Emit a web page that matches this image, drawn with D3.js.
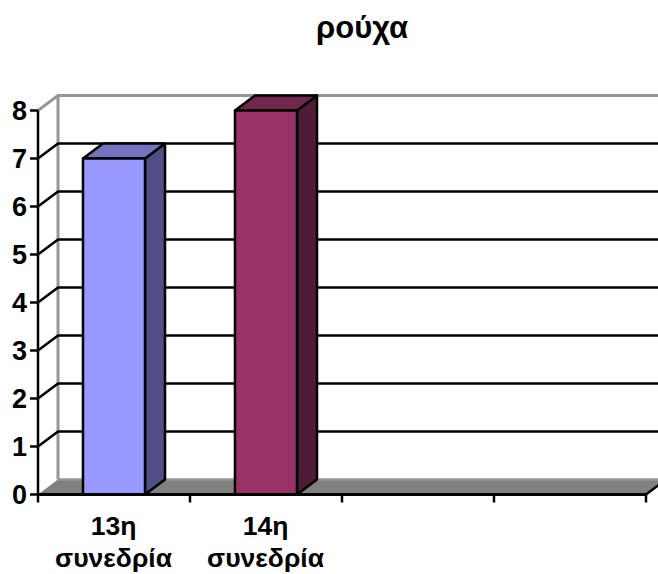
<!DOCTYPE html>
<html>
<head>
<meta charset="utf-8">
<script src="https://cdn.jsdelivr.net/npm/d3@7"></script>
<style>
  html, body { margin: 0; padding: 0; background: #fff; }
  svg { display: block; font-family: "Liberation Sans", Arial, sans-serif; font-weight: bold; }
</style>
</head>
<body>
<div id="chart"></div>
<script>
const title = "ρούχα"
const categories = ["13η συνεδρία", "14η συνεδρία", "c3", "c4"]
const values = [7, 8]
const barColors = ["#9999ff", "#993366"]
const sideColors = ["#4f4f85", "#4f1b35"]
const topColors = ["#7373bf", "#73264d"]
const yTicks = [0, 1, 2, 3, 4, 5, 6, 7, 8]

const width = 658, height = 574
const left = 38, right = 646, y0 = 494.5, y8 = 110.5
const dx = 20, dy = 15

const svg = d3.select("#chart").append("svg")
  .attr("width", width)
  .attr("height", height)

const x = d3.scaleBand()
  .domain(categories)
  .range([left, right])
  .paddingInner(0.592)
  .paddingOuter(0.296)

const y = d3.scaleLinear()
  .domain([0, 8])
  .range([y0, y8])

const step = x.step()

svg.append("text")
  .attr("x", 362)
  .attr("y", 38)
  .attr("text-anchor", "middle")
  .style("font-size", "31px")
  .text(title)

// back wall and side wall edges
svg.append("path")
  .attr("d", `M${left},${y(8)}L${left + dx},${y(8) - dy}L${width + 10},${y(8) - dy}`)
  .attr("fill", "none")
  .attr("stroke", "#969696")
  .attr("stroke-width", 3)

svg.append("line")
  .attr("x1", left + dx).attr("x2", left + dx)
  .attr("y1", y(8) - dy).attr("y2", y0 - dy)
  .attr("stroke", "#969696")
  .attr("stroke-width", 3)

// floor
svg.append("path")
  .attr("d", `M${left},${y0}L${left + dx},${y0 - dy}L${right + dx},${y0 - dy}L${right},${y0}Z`)
  .attr("fill", "#808080")
svg.append("line")
  .attr("x1", left + dx).attr("x2", width)
  .attr("y1", y0 - dy).attr("y2", y0 - dy)
  .attr("stroke", "#969696")
  .attr("stroke-width", 2.5)

// gridlines, with the slanted bit on the side wall
yTicks.filter(d => d > 0 && d < 8).forEach(d => {
  svg.append("path")
    .attr("d", `M${left},${y(d)}L${left + dx},${y(d) - dy}L${width + 10},${y(d) - dy}`)
    .attr("fill", "none")
    .attr("stroke", "#000")
    .attr("stroke-width", 2.5)
})

// bars
const bars = svg.selectAll("g.bar")
  .data(values)
  .join("g")
    .attr("class", "bar")
    .attr("stroke", "#000")
    .attr("stroke-width", 2.5)
    .attr("stroke-linejoin", "round")

bars.append("path")
  .attr("fill", (d, i) => sideColors[i])
  .attr("d", (d, i) => {
    const r = x(categories[i]) + x.bandwidth()
    return `M${r},${y(d)}L${r + dx},${y(d) - dy}L${r + dx},${y0 - dy}L${r},${y0}Z`
  })

bars.append("path")
  .attr("fill", (d, i) => topColors[i])
  .attr("d", (d, i) => {
    const l = x(categories[i]), r = l + x.bandwidth()
    return `M${l},${y(d)}L${l + dx},${y(d) - dy}L${r + dx},${y(d) - dy}L${r},${y(d)}Z`
  })

bars.append("rect")
  .attr("fill", (d, i) => barColors[i])
  .attr("x", (d, i) => x(categories[i]))
  .attr("y", d => y(d))
  .attr("width", x.bandwidth())
  .attr("height", d => y0 - y(d))

// front axes
svg.append("line")
  .attr("x1", left).attr("x2", left)
  .attr("y1", y(8)).attr("y2", y0)
  .attr("stroke", "#000").attr("stroke-width", 2.5)

svg.append("line")
  .attr("x1", left).attr("x2", right)
  .attr("y1", y0).attr("y2", y0)
  .attr("stroke", "#000").attr("stroke-width", 3)

svg.append("line")
  .attr("x1", right).attr("x2", right + 14)
  .attr("y1", y0).attr("y2", y0 - 10.5)
  .attr("stroke", "#000").attr("stroke-width", 2.5)

// y ticks
svg.selectAll("line.ytick")
  .data(yTicks)
  .join("line")
    .attr("class", "ytick")
    .attr("x1", left - 8).attr("x2", left)
    .attr("y1", d => y(d)).attr("y2", d => y(d))
    .attr("stroke", "#000").attr("stroke-width", 2.5)

svg.selectAll("text.ylab")
  .data(yTicks)
  .join("text")
    .attr("class", "ylab")
    .attr("x", 27)
    .attr("y", d => y(d) + 9.5)
    .attr("text-anchor", "end")
    .style("font-size", "27px")
    .text(d => d)

// x ticks at band edges
const xEdges = d3.range(categories.length + 1).map(i => left + i * step)
svg.selectAll("line.xtick")
  .data(xEdges)
  .join("line")
    .attr("class", "xtick")
    .attr("x1", d => d).attr("x2", d => d)
    .attr("y1", y0).attr("y2", y0 + 8)
    .attr("stroke", "#000").attr("stroke-width", 2.5)

// category labels, first two only
categories.slice(0, values.length).forEach(c => {
  const t = svg.append("text")
    .attr("text-anchor", "middle")
    .style("font-size", "26.5px")
  c.split(" ").forEach((w, j) => {
    t.append("tspan")
      .attr("x", x(c) + x.bandwidth() / 2 - 0.5)
      .attr("y", 535 + j * 32)
      .text(w)
  })
})
</script>
</body>
</html>
